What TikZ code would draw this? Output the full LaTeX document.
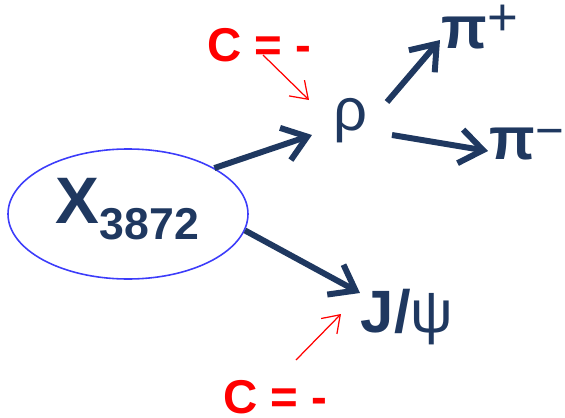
\documentclass[tikz,border=0pt]{standalone}
\usepackage{fontspec}
\setmainfont{Liberation Sans}
\usepackage{tikz}
\usepackage{xcolor}
\usetikzlibrary{shapes.geometric, arrows.meta, positioning, calc}
\definecolor{cNavy}{RGB}{31,56,96}
\definecolor{cRed}{RGB}{255,0,0}
\definecolor{cRing}{RGB}{60,60,250}
\tikzset{
	ring/.style     ={ellipse, draw=cRing, line width=0.45pt, minimum width=2.4cm, minimum height=1.3cm, inner sep=0pt},
	particle/.style ={anchor=base, inner sep=0pt, text=cNavy, font=\fontsize{17}{19}\selectfont},
	cpar/.style     ={anchor=base, inner sep=0pt, text=cRed, font=\fontsize{13.5}{15}\selectfont\bfseries},
	decay/.style    ={-{Straight Barb[length=2.3mm, width=3.4mm]}, draw=cNavy, line width=1.7pt},
	cmark/.style    ={-{Straight Barb[length=1.6mm, width=2.2mm]}, draw=cRed, line width=0.35pt},
}

\begin{document}
\begin{tikzpicture}
	\useasboundingbox (0,0) rectangle (5.65,4.18);
	% mother state
	\node[ring] (X) at (1.28,2.04) {};
	\node[anchor=base, inner sep=0pt, text=cNavy] (xname) at (1.275,1.95)
		{{\fontsize{18.7}{20}\selectfont\bfseries X}\raisebox{-4.8pt}{\fontsize{12.7}{14}\selectfont\bfseries 3872}};
	% daughters
	\node[particle] (rho) at (3.50,2.88) {ρ};
	\node[particle] (pip) at (4.80,3.70) {\textbf{π}\raisebox{3.6pt}{\fontsize{15}{16}\selectfont +}};
	\node[particle] (pim) at (5.27,2.58) {\textbf{π}\raisebox{3.6pt}{\fontsize{14}{15}\selectfont −}};
	\node[particle] (jpsi) at (4.07,0.86) {\textbf{J/}ψ};
	% C-parity labels
	\node[cpar] (ctop) at (2.595,3.56) {C = -};
	\node[cpar] (cbot) at (2.755,0.05) {C = -};
	% decay arrows
	\draw[decay] (X.28) -- ($(rho.base)+(-0.38,-0.05)$);
	\draw[decay] ($(rho.base)+(0.37,0.28)$) -- ($(pip.base)+(-0.40,0.08)$);
	\draw[decay] ($(rho.base)+(0.42,-0.05)$) -- ($(pim.base)+(-0.39,0.09)$);
	\draw[decay] (X.-8) -- ($(jpsi.base)+(-0.47,0.39)$);
	% parity pointers
	\draw[cmark] ($(ctop.base)+(0.035,0.07)$) -- ($(rho.base)+(-0.41,0.30)$);
	\draw[cmark] ($(cbot.base)+(0.205,0.53)$) -- ($(jpsi.base)+(-0.66,0.18)$);
\end{tikzpicture}
\end{document}
